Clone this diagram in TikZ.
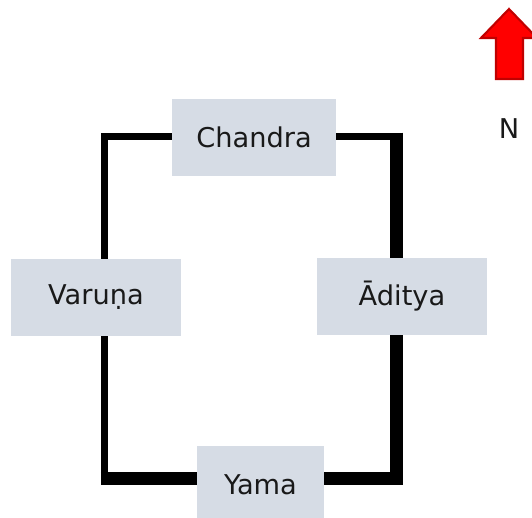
\documentclass[tikz,border=0pt]{standalone}
\usepackage{fontspec}
\setmainfont{DejaVu Sans}
\usetikzlibrary{backgrounds}
\definecolor{boxgray}{HTML}{D6DCE5}
\definecolor{arrowred}{HTML}{FF0000}
\definecolor{arrowedge}{HTML}{C00000}

\begin{document}
\begin{tikzpicture}[
        % --- GENERAL SETTINGS ---
        % style for the four deity boxes
        deity/.style={
            rectangle,
            fill=boxgray, % light blue-gray fill
            minimum height=1.54cm,
            inner sep=0pt,
            font=\fontsize{15.5}{18}\selectfont,
            text=black!90
        },
        % style for the frame lines
        wall/.style={
            draw=black,
            line cap=butt,
            line join=miter
        },
        thinwall/.style={wall, line width=0.15cm},
        thickwall/.style={wall, line width=0.26cm},
        % style for the north arrow
        northarrow/.style={
            fill=arrowred,
            draw=arrowedge,
            line width=1.2pt,
            line join=miter
        }
    ]

    % fix the page size
    \useasboundingbox (0,0) rectangle (10.64,10.36);

    % --- THE FOUR BOXES ---
    \node[deity, minimum width=3.28cm] (chandra) at (5.08,7.61) {Chandra};
    \node[deity, minimum width=3.40cm] (varuna) at (1.92,4.41) {Varuṇa};
    \node[deity, minimum width=3.40cm] (aditya) at (8.04,4.43) {Āditya};
    \node[deity, minimum width=2.54cm] (yama) at (5.21,0.67) {Yama};

    % corners of the frame
    \coordinate (nw) at (2.09,7.63);
    \coordinate (ne) at (7.93,7.63);
    \coordinate (se) at (7.93,0.79);
    \coordinate (sw) at (2.09,0.79);

    % --- FRAME (behind the boxes) ---
    \begin{pgfonlayer}{background}
        \draw[thinwall] (nw |- varuna) -- (nw) -- (nw -| chandra);
        \draw[thinwall] (nw -| chandra) -- ([xshift=0.13cm]ne);
        \draw[thickwall] ([yshift=0.075cm]ne) -- (ne |- aditya) -- (se) -- (se -| yama);
        \draw[thinwall] (nw |- varuna) -- ([yshift=-0.13cm]sw);
        \draw[thickwall] ([xshift=-0.07cm]sw) -- (sw -| yama);
    \end{pgfonlayer}

    % --- NORTH ARROW ---
    \draw[northarrow] (10.18,10.18) -- (10.74,9.60) -- (10.46,9.60) -- (10.46,8.78)
        -- (9.92,8.78) -- (9.92,9.60) -- (9.62,9.60) -- cycle;
    \node[font=\fontsize{15.5}{18}\selectfont, text=black!90] (north) at (10.18,7.78) {N};

\end{tikzpicture}
\end{document}
